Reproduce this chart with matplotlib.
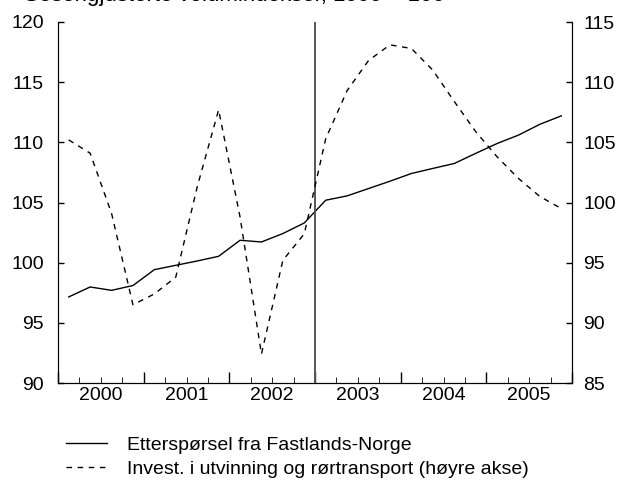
import numpy as np
import matplotlib.pyplot as plt
from matplotlib.ticker import MultipleLocator, FixedLocator, NullFormatter

plt.rcParams['font.family'] = ['Liberation Sans', 'DejaVu Sans']

# quarterly data 2000Q1 - 2005Q4
years = [2000, 2001, 2002, 2003, 2004, 2005]
etterspørsel = [97.15, 97.98, 97.7, 98.1,
                99.42, 99.78, 100.14, 100.53,
                101.86, 101.72, 102.42, 103.3,
                105.19, 105.55, 106.16, 106.77,
                107.41, 107.83, 108.24, 109.08,
                109.9, 110.6, 111.5, 112.2]
invest = [105.2, 104.1, 99.1, 91.5,
          92.4, 93.8, 101.3, 107.7,
          98.8, 87.4, 95.2, 97.4,
          105.3, 109.3, 111.8, 113.1,
          112.8, 111.0, 108.4, 105.9,
          103.8, 102.0, 100.5, 99.5]
labels = ["Etterspørsel fra Fastlands-Norge",
          "Invest. i utvinning og rørtransport (høyre akse)"]
title = "Sesongjusterte volumindekser, 1999 = 100"

x = np.array([years[0] + (i + 0.5) / 4 for i in range(len(etterspørsel))])

fig = plt.figure(figsize=(6.21, 4.84), dpi=100)
ax = fig.add_axes([58 / 621, 1 - 383 / 484, (572 - 58) / 621, (383 - 22) / 484])
ax2 = ax.twinx()

l1, = ax.plot(x, etterspørsel, color='black', lw=1.0)
l2, = ax2.plot(x, invest, color='black', lw=1.0, ls=(0, (4, 4)))
ax.axvline(2003, color='#555555', lw=1.4)

ax.set_xlim(2000, 2006)
ax.set_ylim(90, 120)
ax2.set_ylim(85, 115)
ax.yaxis.set_major_locator(MultipleLocator(5))
ax2.yaxis.set_major_locator(MultipleLocator(5))

ax.xaxis.set_major_locator(FixedLocator(range(2000, 2007)))
ax.xaxis.set_major_formatter(NullFormatter())
ax.xaxis.set_minor_locator(FixedLocator([y + q / 4 for y in range(2000, 2006) for q in (1, 2, 3)]))
for yr in years:
    ax.text(yr + 0.5, -0.012, str(yr), transform=ax.get_xaxis_transform(),
            ha='center', va='top', fontsize=14)

for a in (ax, ax2):
    a.spines['top'].set_visible(False)
    a.tick_params(direction='in', labelsize=14, width=1)
ax.tick_params(axis='x', which='major', length=8)
ax.tick_params(axis='x', which='minor', length=4, direction='in')
ax.tick_params(axis='y', length=4, pad=10)
ax2.tick_params(axis='y', length=4, pad=8)

fig.text(24 / 621, 1 - 0.5 / 484, title, fontsize=16, va='baseline')

fig.legend([l1, l2], labels, loc='upper left', bbox_to_anchor=(66 / 621, 1 - 436 / 484),
           frameon=False, fontsize=14, handlelength=2.1, handletextpad=1.05,
           labelspacing=0.35, borderaxespad=0, borderpad=0)

fig.savefig('out.png', dpi=100)
